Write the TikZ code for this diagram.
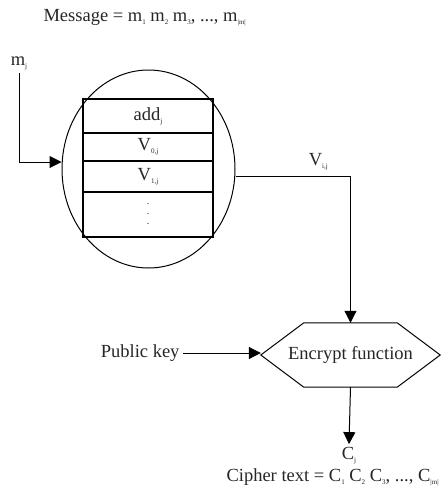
\documentclass[tikz,border=0pt]{standalone}
\usepackage{fontspec}
\setmainfont{Liberation Serif}
\usetikzlibrary{positioning,shapes.geometric,arrows.meta}

% tiny lowered index, as in m_1, V_{0,j}
\newcommand{\ix}[1]{\raisebox{-0.35ex}{\fontsize{7pt}{7pt}\selectfont #1}}

\begin{document}
\begin{tikzpicture}[x=1pt,y=-1pt,
    every node/.style={font=\fontsize{18.5pt}{20pt}\selectfont, text=black!85},
    arr/.style={line width=1pt, -{Triangle[length=12pt,width=12pt]}},
    cell/.style={draw, line width=1.2pt, minimum width=130pt, inner sep=0pt, outer sep=0pt}]
    \useasboundingbox (0,0) rectangle (442,499);

    \node[anchor=west] (msg) at (40,18) {Message = m\ix{1} m\ix{2} m\ix{3}, ..., m\ix{|m|}};
    \node (mj) at (19,63) {m\ix{j}};

    % the store: an ellipse around the table of values
    \node[draw, ellipse, line width=1pt, minimum width=173pt, minimum height=198pt] (store) at (148.5,169) {};
    \node[cell, minimum height=34pt] (add) at (148,116) {add\ix{j}};
    \node[cell, minimum height=28pt, below=0pt of add] (v0) {V\ix{0,j}};
    \node[cell, minimum height=31pt, below=0pt of v0] (v1) {V\ix{1,j}};
    \node[cell, minimum height=45pt, below=0pt of v1, font=\fontsize{10pt}{10pt}\selectfont, align=center] (rest) {.\\.\\.};

    \draw[arr] (mj.south) |- ([yshift=7pt]store.west);

    % encryption step, hexagon drawn round the node
    \node[minimum width=179pt, minimum height=64pt, inner sep=0pt] (enc) at (350.5,355) {Encrypt function};
    \draw[line width=1pt] (enc.west) -- ([xshift=43pt]enc.north west) -- ([xshift=-43pt]enc.north east)
        -- (enc.east) -- ([xshift=-43pt]enc.south east) -- ([xshift=43pt]enc.south west) -- cycle;
    \node[anchor=east] (pk) at (183,353) {Public key};
    \draw[arr] ([yshift=-7pt]store.east) -| (enc.north) node[pos=0.36, above, yshift=2pt] {V\ix{i,j}};
    \draw[arr] (pk.east) -- ([yshift=2pt]enc.west);

    \node (cj) at (349,456) {C\ix{j}};
    \draw[arr] (enc.south) -- (cj.north);
    \node[anchor=west] (ct) at (223,477) {Cipher text = C\ix{1} C\ix{2} C\ix{3}, ..., C\ix{|m|}};
\end{tikzpicture}
\end{document}
